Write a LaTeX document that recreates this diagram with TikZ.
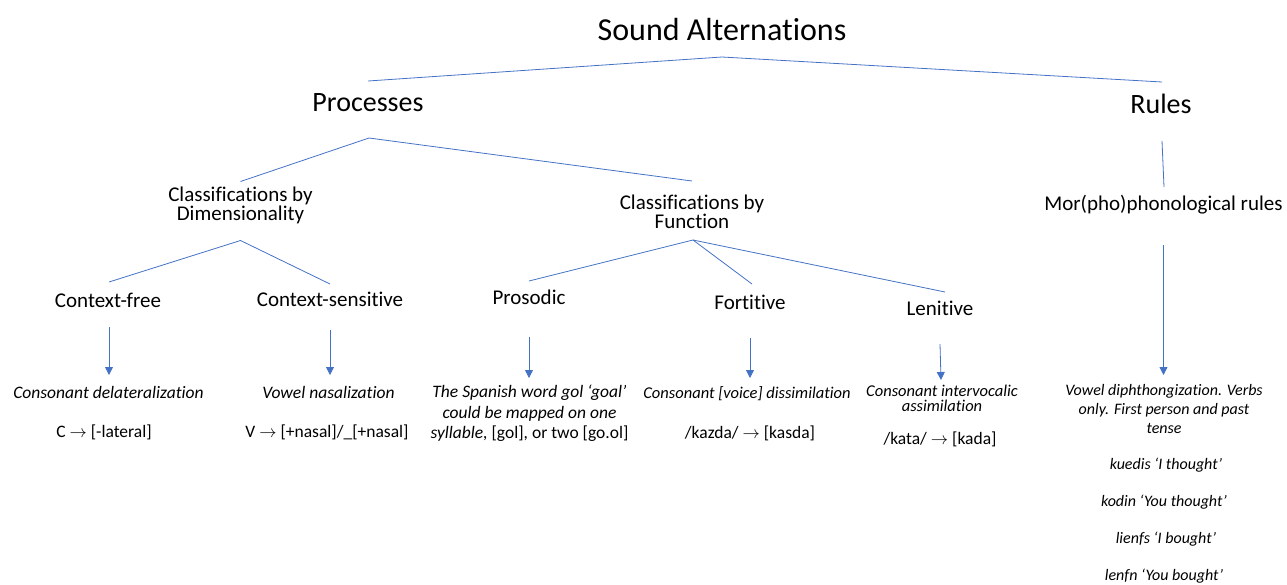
\documentclass[tikz,border=0pt]{standalone}
\usepackage{fontspec}
\setmainfont[Ligatures=CommonOff,RawFeature={-liga;-clig}]{Carlito}
\usetikzlibrary{arrows.meta}
\definecolor{lnblue}{HTML}{4472C4}
\setlength{\lineskiplimit}{-100pt}
\newcommand{\ra}{\ensuremath{\rightarrow}}
\begin{document}
\begin{tikzpicture}[x=1pt,y=-1pt,
  every node/.style={inner sep=0pt, text=black},
  fsA/.style={font=\fontsize{32}{38}\selectfont},
  fsB/.style={font=\fontsize{28}{34}\selectfont},
  fsC/.style={font=\fontsize{21}{19}\selectfont, align=center},
  itA/.style={font=\fontsize{17.5}{20.5}\selectfont\itshape, align=center},
  upA/.style={font=\fontsize{17.5}{20.5}\selectfont, align=center},
  itB/.style={font=\fontsize{16.5}{15}\selectfont\itshape, align=center},
  itC/.style={font=\fontsize{16}{19}\selectfont\itshape, align=center},
  conn/.style={draw=lnblue, line width=0.8pt},
  arr/.style={conn, -{Triangle[width=8pt,length=8pt]}},
]
\path[use as bounding box] (0,0) rectangle (1287,584);

% level 0-1
\node[fsA] (title) at (722,30) {Sound Alternations};
\node[fsB] (proc)  at (368,103) {Processes};
\node[fsB] (rules) at (1161,104) {Rules};

% level 2
\node[fsC] (dim)   at (240.5,205.5) {Classifications by\\Dimensionality};
\node[fsC] (func)  at (692,212) {Classifications by\\Function};
\node[fsC] (morph) at (1163.5,205) {Mor(pho)phonological rules};

% level 3
\node[fsC] (cf)   at (108,300) {Context-free};
\node[fsC] (cs)   at (330,299) {Context-sensitive};
\node[fsC] (pros) at (529,297) {Prosodic};
\node[fsC] (fort) at (750,302) {Fortitive};
\node[fsC] (len)  at (940,308) {Lenitive};

% descriptions
\node[itA] (cfd) at (108.5,392) {Consonant delateralization};
\node[upA] (cff) at (104,432) {C \ra{} [-lateral]};
\node[itA] (csd) at (328.5,392) {Vowel nasalization};
\node[upA] (csf) at (327,432) {V \ra{} [+nasal]/\_[+nasal]};
\node[itA] (prd) at (529.5,413.5) {The Spanish word gol ‘goal’\\could be mapped on one\\syllable,\upshape{} [gol], or two [go.ol]};
\node[itB] (ftd) at (747,394) {Consonant [voice] dissimilation};
\node[upA] (ftf) at (750,433) {/kazda/ \ra{} [kasda]};
\node[itB] (lnd) at (942,398.5) {Consonant intervocalic\\assimilation};
\node[upA] (lnf) at (940,439) {/kata/ \ra{} [kada]};
\node[itC] (rud) at (1164,409) {Vowel diphthongization. Verbs\\only. First person and past\\tense};
\node[itC] (ex1) at (1166,465) {kuedis ‘I thought’};
\node[itC] (ex2) at (1164,502) {kodin ‘You thought’};
\node[itC] (ex3) at (1166,539) {lienfs ‘I bought’};
\node[itC] (ex4) at (1164,576) {lenfn ‘You bought’};

% tree connectors
\draw[conn] ([yshift=22pt]proc.center) -- ([yshift=-27pt]title.center) -- ([xshift=1pt,yshift=22pt]rules.center);
\draw[conn] ([yshift=24pt]dim.center) -- ([xshift=1pt,yshift=-35pt]proc.center) -- ([yshift=31pt]func.center);
\draw[conn] ([xshift=1pt,yshift=18pt]cf.center) -- ([yshift=-35pt]dim.center) -- ([yshift=15pt]cs.center);
\draw[conn] ([yshift=16pt]pros.center) -- ([xshift=1pt,yshift=-28pt]func.center) -- ([xshift=2pt,yshift=18pt]fort.center);
\draw[conn] ([xshift=1pt,yshift=-28pt]func.center) -- ([xshift=5pt,yshift=16pt]len.center);
\draw[conn] ([xshift=1pt,yshift=-37pt]rules.center) -- ([xshift=0.5pt,yshift=18pt]morph.center);

% arrows
\draw[arr] ([xshift=1pt,yshift=-27pt]cf.center) -- ([xshift=0.5pt,yshift=17pt]cfd.center);
\draw[arr] ([yshift=-31pt]cs.center) -- ([xshift=1.5pt,yshift=17pt]csd.center);
\draw[arr] ([yshift=-40pt]pros.center) -- ([xshift=-0.5pt,yshift=35.5pt]prd.center);
\draw[arr] ([yshift=-36pt]fort.center) -- ([xshift=3pt,yshift=16pt]ftd.center);
\draw[arr] ([yshift=-36pt]len.center) -- ([xshift=-1pt,yshift=18.5pt]lnd.center);
\draw[arr] ([yshift=-40pt]morph.center) -- ([xshift=-0.5pt,yshift=34pt]rud.center);
\end{tikzpicture}
\end{document}
